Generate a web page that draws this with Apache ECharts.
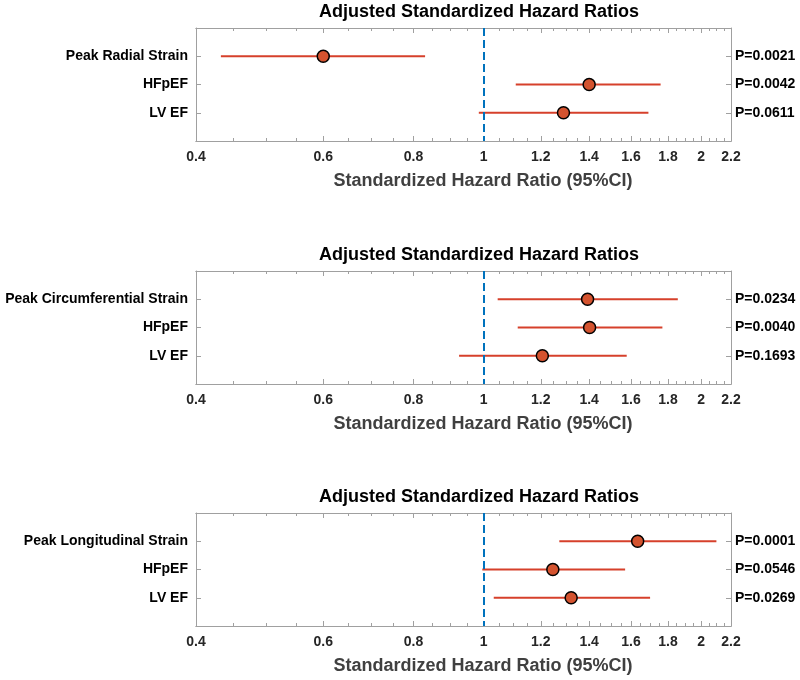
<!DOCTYPE html>
<html>
<head>
<meta charset="utf-8">
<script src="https://cdn.jsdelivr.net/npm/echarts@6/dist/echarts.min.js"></script>
<style>
  html, body { margin: 0; padding: 0; background: #fff; }
  #chart { width: 800px; height: 680px; }
</style>
</head>
<body>
<div id="chart"></div>
<script>
// panel titles / row labels
var titleText = 'Adjusted Standardized Hazard Ratios';
var xName = 'Standardized Hazard Ratio (95%CI)';

var rows1 = ['Peak Radial Strain', 'HFpEF', 'LV EF'];
var hr1 = [0.60, 1.40, 1.29];
var lo1 = [0.433, 1.108, 0.985];
var hi1 = [0.830, 1.758, 1.691];
var p1 = ['P=0.0021', 'P=0.0042', 'P=0.0611'];

var rows2 = ['Peak Circumferential Strain', 'HFpEF', 'LV EF'];
var hr2 = [1.393, 1.402, 1.206];
var lo2 = [1.046, 1.115, 0.925];
var hi2 = [1.857, 1.768, 1.578];
var p2 = ['P=0.0234', 'P=0.0040', 'P=0.1693'];

var rows3 = ['Peak Longitudinal Strain', 'HFpEF', 'LV EF'];
var hr3 = [1.634, 1.247, 1.322];
var lo3 = [1.273, 0.996, 1.033];
var hi3 = [2.100, 1.570, 1.700];
var p3 = ['P=0.0001', 'P=0.0546', 'P=0.0269'];

// axis ticks
var majorTicks = [0.4, 0.6, 0.8, 1, 1.2, 1.4, 1.6, 1.8, 2, 2.2];
var minorTicks = [0.45, 0.5, 0.55, 0.65, 0.7, 0.75, 0.85, 0.9, 0.95,
                  1.05, 1.1, 1.15, 1.25, 1.3, 1.35, 1.45, 1.5, 1.55,
                  1.65, 1.7, 1.75, 1.85, 1.9, 1.95, 2.05, 2.1, 2.15];
var rowPos = [1, 2, 3];

var panels = [
  { rows: rows1, hr: hr1, lo: lo1, hi: hi1, p: p1, top: 28 },
  { rows: rows2, hr: hr2, lo: lo2, hi: hi2, p: p2, top: 271 },
  { rows: rows3, hr: hr3, lo: lo3, hi: hi3, p: p3, top: 513 }
];

var FONT = '"Liberation Sans", Arial, Helvetica, sans-serif';
var AXIS_COLOR = '#a0a0a0';
var PLOT_H = 113;

var chart = echarts.init(document.getElementById('chart'), null, { renderer: 'canvas' });

var grids = [], xAxes = [], yAxes = [], series = [], texts = [];

panels.forEach(function (pn, i) {
  grids.push({ left: 196, right: 69, top: pn.top, height: PLOT_H, containLabel: false });

  // title and x label (sit a bit right of the plot centre, like the original)
  texts.push({
    type: 'text', x: 479, y: pn.top - 16, silent: true,
    style: { text: titleText, font: 'bold 18px ' + FONT, fill: '#000',
             textAlign: 'center', textVerticalAlign: 'middle' }
  });
  texts.push({
    type: 'text', x: 483, y: pn.top + PLOT_H + 40, silent: true,
    style: { text: xName, font: 'bold 18px ' + FONT, fill: '#404040',
             textAlign: 'center', textVerticalAlign: 'middle' }
  });

  function xAx(pos, ticks, len, extra) {
    var a = {
      type: 'log', logBase: 10, gridIndex: i, position: pos,
      min: 0.4, max: 2.2,
      axisLine: { show: true, onZero: false, lineStyle: { color: AXIS_COLOR, width: 1 } },
      axisTick: { show: true, inside: true, length: len, customValues: ticks,
                  lineStyle: { color: AXIS_COLOR, width: 1 } },
      axisLabel: { show: false },
      splitLine: { show: false }
    };
    return Object.assign(a, extra || {});
  }

  xAxes.push(xAx('bottom', majorTicks, 5, {
    axisLabel: { show: true, customValues: majorTicks, margin: 9,
                 formatter: function (v) { return String(+v.toFixed(2)); },
                 color: '#262626', fontFamily: FONT, fontSize: 14, fontWeight: 'bold' }
  }));
  xAxes.push(xAx('bottom', minorTicks, 3));
  xAxes.push(xAx('top', majorTicks, 5));
  xAxes.push(xAx('top', minorTicks, 3));

  function yAx(pos, labels, margin) {
    return {
      type: 'value', gridIndex: i, position: pos, min: 0, max: 4, inverse: true,
      axisLine: { show: true, onZero: false, lineStyle: { color: AXIS_COLOR, width: 1 } },
      axisTick: { show: true, inside: true, length: 5, customValues: rowPos,
                  lineStyle: { color: AXIS_COLOR } },
      axisLabel: { show: true, customValues: rowPos, margin: margin,
                   formatter: function (v) { return labels[Math.round(v) - 1]; },
                   color: '#000', fontFamily: FONT, fontSize: 14, fontWeight: 'bold' },
      splitLine: { show: false }
    };
  }
  yAxes.push(yAx('left', pn.rows, 8));
  yAxes.push(yAx('right', pn.p, 4));

  var ciData = pn.lo.map(function (l, k) { return [l, pn.hi[k], rowPos[k]]; });
  var ptData = pn.hr.map(function (h, k) { return [h, rowPos[k]]; });

  series.push({
    type: 'custom', xAxisIndex: i * 4, yAxisIndex: i * 2, silent: true,
    data: ciData,
    encode: { x: [0, 1], y: 2 },
    renderItem: function (params, api) {
      var a = api.coord([api.value(0), api.value(2)]);
      var b = api.coord([api.value(1), api.value(2)]);
      return {
        type: 'line',
        shape: { x1: a[0], y1: a[1], x2: b[0], y2: b[1] },
        style: { stroke: '#D6402B', lineWidth: 2 }
      };
    },
    z: 2
  });

  series.push({
    type: 'scatter', xAxisIndex: i * 4, yAxisIndex: i * 2, silent: true,
    data: ptData,
    symbol: 'circle', symbolSize: 12,
    itemStyle: { color: '#D4532F', borderColor: '#000', borderWidth: 1.5, opacity: 1 },
    z: 4,
    markLine: {
      silent: true, symbol: ['none', 'none'],
      label: { show: false },
      lineStyle: { color: '#0072BD', type: [8, 4], width: 2 },
      data: [{ xAxis: 1 }],
      z: 3
    }
  });
});

chart.setOption({
  animation: false,
  backgroundColor: '#fff',
  textStyle: { fontFamily: FONT },
  grid: grids,
  xAxis: xAxes,
  yAxis: yAxes,
  series: series,
  graphic: texts
});
</script>
</body>
</html>
